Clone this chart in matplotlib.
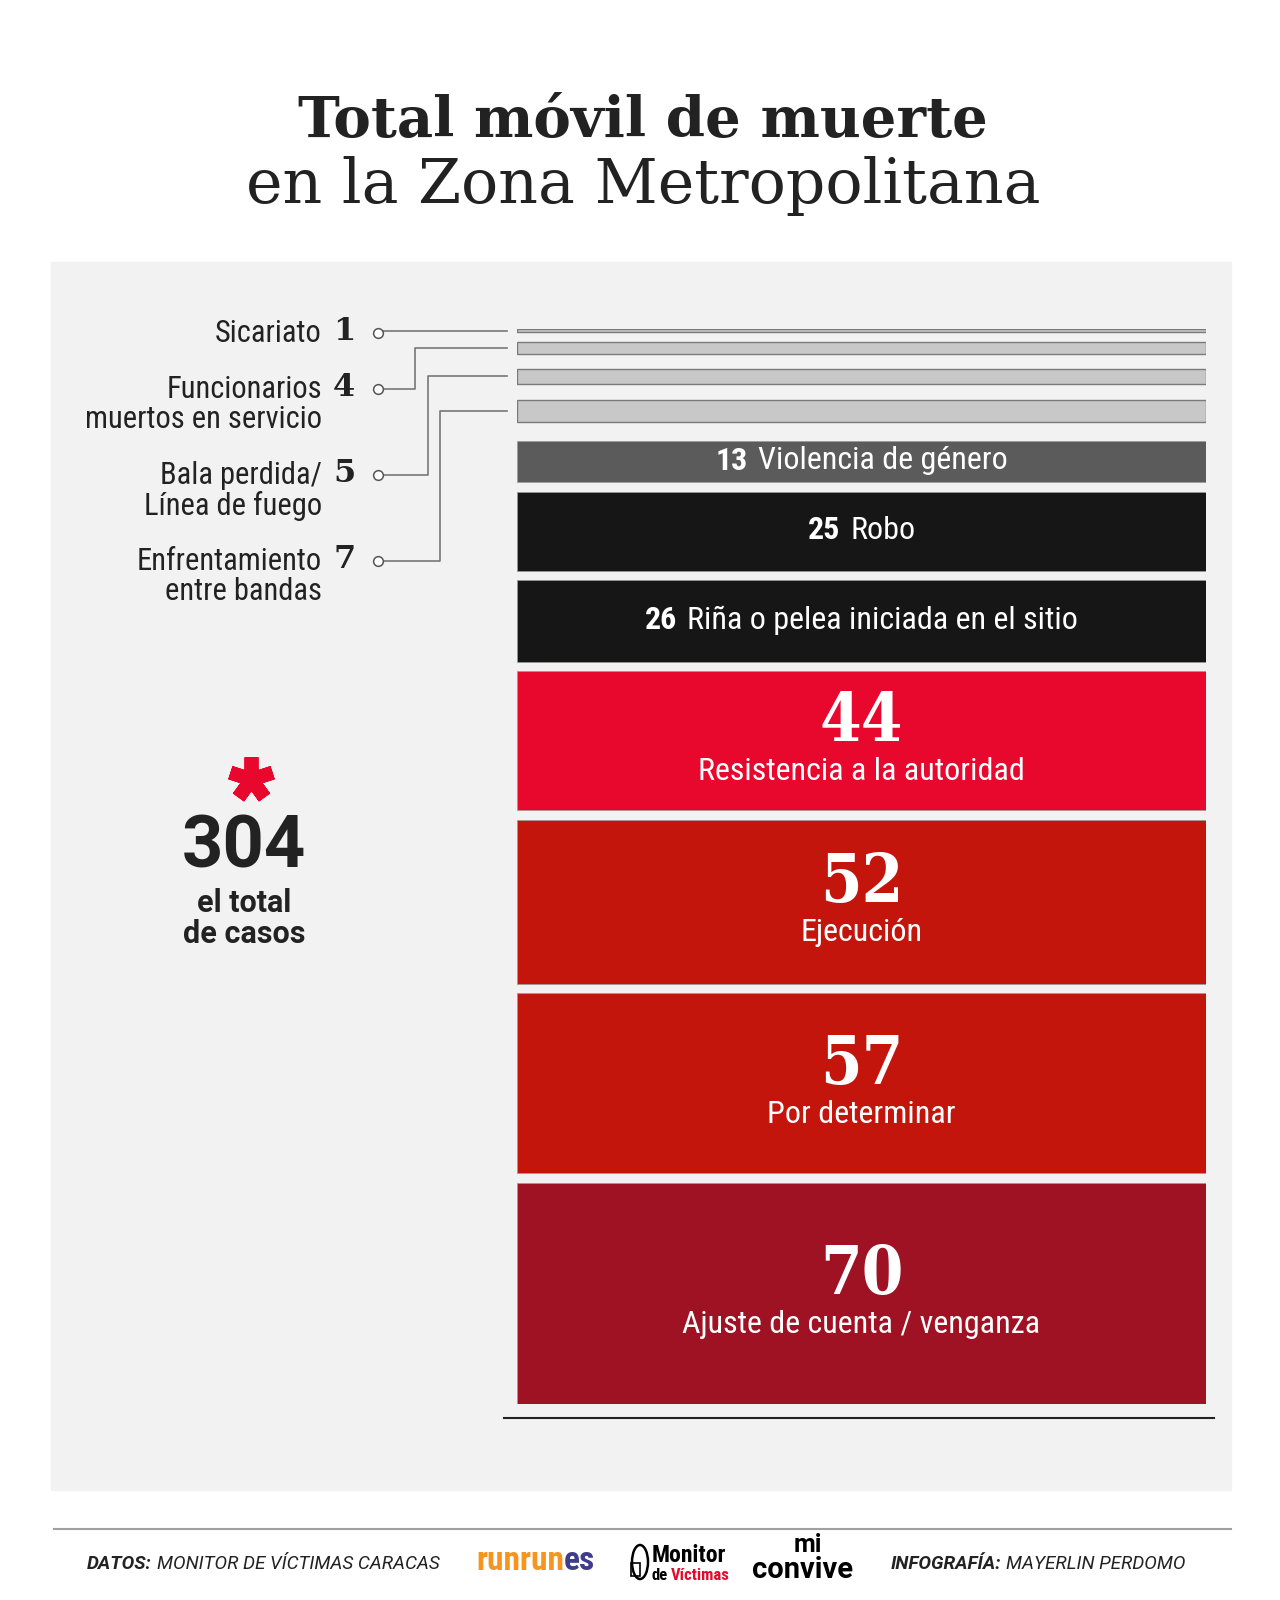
import matplotlib
matplotlib.use("Agg")
import matplotlib.pyplot as plt
from matplotlib import font_manager as fm
from matplotlib.patches import Rectangle, Ellipse

# ---- data ----
categorias = [
    "Sicariato",
    "Funcionarios\nmuertos en servicio",
    "Bala perdida/\nLínea de fuego",
    "Enfrentamiento\nentre bandas",
    "Violencia de género",
    "Robo",
    "Riña o pelea iniciada en el sitio",
    "Resistencia a la autoridad",
    "Ejecución",
    "Por determinar",
    "Ajuste de cuenta / venganza",
]
casos = [1, 4, 5, 7, 13, 25, 26, 44, 52, 57, 70]
total_casos = sum(casos)

bar_colors = ["#c8c8c8", "#c8c8c8", "#c8c8c8", "#c8c8c8", "#5b5b5b",
              "#161616", "#161616", "#e8072d", "#c4150d", "#c4150d", "#9e1224"]

# pick a condensed sans if one is installed
fonts = fm.fontManager.ttflist
names = {f.name for f in fonts}
NARROW = dict(family=["Roboto", "DejaVu Sans"])
NARROW_SCALE = 0.92
for cand in ["Roboto Condensed", "Liberation Sans Narrow"]:
    if cand in names:
        NARROW = dict(family=[cand, "DejaVu Sans"])
        NARROW_SCALE = 1.0
        break
else:
    if any(f.name == "DejaVu Sans" and f.stretch == "condensed" for f in fonts):
        NARROW = dict(family=["DejaVu Sans"], fontstretch="condensed")
        NARROW_SCALE = 0.95

SANS = ["Roboto", "DejaVu Sans"]
SLAB = ["DejaVu Serif"]
BIGNUM = dict(family=SLAB, fontsize=44)
if any(f.name == "DejaVu Serif" and f.stretch == "condensed" and f.weight in (700, "bold")
       for f in fonts):
    BIGNUM = dict(family=SLAB, fontstretch="condensed", fontsize=48)
DARK = "#222222"


def nfs(size):
    return size * NARROW_SCALE


W, H = 1280, 1600
fig = plt.figure(figsize=(W / 100, H / 100), dpi=100)
fig.patch.set_facecolor("white")

# background panel
back = fig.add_axes([0, 0, 1, 1])
back.set_xlim(0, W)
back.set_ylim(H, 0)
back.axis("off")
back.add_patch(Rectangle((51, 262), 1180, 1228, color="#f2f2f2", zorder=0))

# ---- stacked bars with gaps ----
ax = fig.add_axes([517 / W, 1 - 1404 / H, 689 / W, 1075 / H])
gaps = [2.5 + 0.5 * v if v < 10 else 2.9 for v in casos]
bottoms = []
acc = 0
for v, g in zip(casos, gaps):
    bottoms.append(acc)
    acc += v + g
top_total = acc - gaps[-1]

for v, b, c in zip(casos, bottoms, bar_colors):
    light = c == "#c8c8c8"
    ax.bar(0.5, v, bottom=b, width=1, color=c,
           edgecolor="#7a7a7a" if light else "#9a9a9a",
           linewidth=1.0 if light else 0.5, zorder=2)
ax.set_xlim(0, 1)
ax.set_ylim(top_total, 0)
ax.axis("off")

# overlay for text and lines, pixel coords with y down
bg = fig.add_axes([0, 0, 1, 1])
bg.set_xlim(0, W)
bg.set_ylim(H, 0)
bg.axis("off")

fig.canvas.draw()
renderer = fig.canvas.get_renderer()

# title
bg.text(643, 137, "Total móvil de muerte", family=SLAB, weight="bold",
        fontsize=40.5, color=DARK, ha="center", va="baseline")
bg.text(643, 203, "en la Zona Metropolitana", family=SLAB,
        fontsize=44.5, color=DARK, ha="center", va="baseline")


def ypx(val):
    return H - ax.transData.transform((0, val))[1]


def run_text(x, y, pieces, gap=8):
    """pieces: list of (text, props); laid out left to right, centred at x."""
    objs = []
    for s, props in pieces:
        objs.append(bg.text(0, y, s, va="center", ha="left", **props))
    widths = [t.get_window_extent(renderer).width for t in objs]
    tot = sum(widths) + gap * (len(objs) - 1)
    cur = x - tot / 2
    for t, w in zip(objs, widths):
        t.set_x(cur)
        cur += w + gap
    return objs


xc = 861.5
for cat, v, b in zip(categorias, casos, bottoms):
    cy = ypx(b + v / 2)
    if 10 < v < 30:
        run_text(xc, cy - 1, [
            (str(v), dict(weight="bold", fontsize=nfs(23), color="white", **NARROW)),
            (cat, dict(fontsize=nfs(23), color="white", **NARROW)),
        ], gap=10)
    elif v >= 30:
        bg.text(xc, cy - 18, str(v), weight="bold", color="white",
                ha="center", va="center", **BIGNUM)
        bg.text(xc, cy + 31, cat, fontsize=nfs(23), color="white",
                ha="center", va="center", **NARROW)

# ---- left labels with leader lines ----
label_rows = [333, 389, 475, 561]
elbow_x = [None, 415, 428, 440]
line_col = "#777777"
for i in range(4):
    ly = label_rows[i]
    by = ypx(bottoms[i] + casos[i] / 2)
    for k, ln in enumerate(categorias[i].split("\n")):
        bg.text(322, ly + k * 31, ln, fontsize=nfs(22), color=DARK,
                ha="right", va="center", **NARROW)
    bg.text(333, ly - 1, str(casos[i]), family=SLAB, weight="bold", fontsize=23,
            color=DARK, ha="left", va="center")
    if elbow_x[i] is None:
        bg.plot([382, 507], [by, by], color=line_col, lw=1.2, zorder=3)
    else:
        ex = elbow_x[i]
        bg.plot([382, ex, ex, 507], [ly, ly, by, by], color=line_col, lw=1.2,
                zorder=3)
    bg.plot(378, ly, marker="o", ms=7, mfc="white", mec="#555555", mew=1.1,
            zorder=4)

# baseline
bg.plot([504, 1214], [1418, 1418], color=DARK, lw=1.5, zorder=3)

# ---- total block ----
bg.plot(251, 779, marker=(5, 2, 0), ms=32, mew=10, color="#e8072d", zorder=3)
bg.text(244, 848, str(total_casos), family=SANS, weight="bold", fontsize=52,
        color=DARK, ha="center", va="center")
bg.text(244, 903, "el total", family=SANS, weight="bold", fontsize=22,
        color=DARK, ha="center", va="center")
bg.text(244, 934, "de casos", family=SANS, weight="bold", fontsize=22,
        color=DARK, ha="center", va="center")

# ---- footer ----
bg.plot([54, 1231], [1529, 1529], color="#a0a0a0", lw=1.5)
fy = 1564
foot = dict(family=SANS, style="italic", fontsize=13.6, color=DARK)
t1 = bg.text(87, fy, "DATOS:", weight="bold", va="center", ha="left", **foot)
w1 = t1.get_window_extent(renderer).width
bg.text(87 + w1 + 5, fy, "MONITOR DE VÍCTIMAS CARACAS", va="center",
        ha="left", **foot)
t2 = bg.text(891, fy, "INFOGRAFÍA:", weight="bold", va="center", ha="left", **foot)
w2 = t2.get_window_extent(renderer).width
bg.text(891 + w2 + 5, fy, "MAYERLIN PERDOMO", va="center", ha="left", **foot)

# logos as text
r1 = bg.text(476, fy - 3, "runrun", weight="bold", fontsize=nfs(24),
             color="#f7941d", va="center", ha="left", **NARROW)
wr = r1.get_window_extent(renderer).width
bg.text(476 + wr, fy - 3, "es", weight="bold", fontsize=nfs(24),
        color="#3f3c8c", va="center", ha="left", **NARROW)

bg.add_patch(Ellipse((640, 1562), 16, 34, fill=False, ec="black", lw=1.8))
bg.add_patch(Rectangle((631, 1563), 9, 13, fill=False, ec="black", lw=1.2))
bg.text(652, 1555, "Monitor", weight="bold", fontsize=nfs(17),
        color="black", va="center", ha="left", **NARROW)
m1 = bg.text(652, 1576, "de", weight="bold", fontsize=nfs(12),
             color="black", va="center", ha="left", **NARROW)
wm = m1.get_window_extent(renderer).width
bg.text(652 + wm + 3, 1576, "Víctimas", weight="bold",
        fontsize=nfs(12), color="#e8072d", va="center", ha="left", **NARROW)

bg.text(808, 1545, "mi", family=SANS, weight="bold", fontsize=18,
        color="black", va="center", ha="center")
bg.text(803, 1570, "convive", family=SANS, weight="bold", fontsize=21,
        color="black", va="center", ha="center")

fig.savefig("out.png", dpi=100, facecolor="white")
